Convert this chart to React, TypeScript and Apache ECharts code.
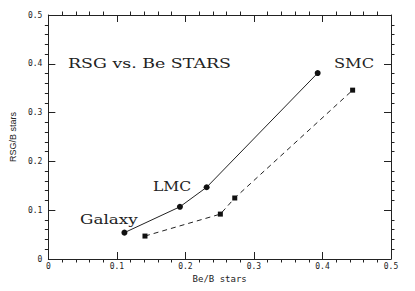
import React, { useEffect, useRef } from "react";
import * as echarts from "echarts";

const rsgX = [0.111, 0.192, 0.231, 0.393];
const rsgY = [0.054, 0.107, 0.147, 0.381];
const beX = [0.141, 0.251, 0.272, 0.444];
const beY = [0.047, 0.092, 0.125, 0.346];
const titleText = "RSG vs. Be STARS";
const pointLabels = ["Galaxy", "LMC", "SMC"];
const xName = "Be/B stars";
const yName = "RSG/B stars";

const tickFont = "DejaVu Sans Mono";

export default function App() {
  const ref = useRef<HTMLDivElement>(null);
  useEffect(() => {
    const chart = echarts.init(ref.current!, null, { renderer: "svg" });
    const mk = () => ({
      type: "value",
      min: 0,
      max: 0.5,
      interval: 0.1,
      splitLine: { show: false },
      axisLine: { show: true, onZero: false, lineStyle: { color: "#222", width: 1 } },
      axisTick: { show: true, inside: true, length: 7, lineStyle: { color: "#222", width: 1 } },
      minorTick: { show: true, splitNumber: 5, length: -3.5, lineStyle: { color: "#222", width: 1 } },
    });
    const annot = (text: string, x: number, y: number, sx: number) => ({
      type: "text",
      x,
      y,
      scaleX: sx,
      style: { text, font: "12px DejaVu Serif", fill: "#222", textVerticalAlign: "top" },
    });
    chart.setOption({
      animation: false,
      grid: { left: 45, right: 24, top: 15, bottom: 32 },
      xAxis: [
        {
          ...mk(),
          position: "bottom",
          name: xName,
          nameLocation: "middle",
          nameGap: 12,
          nameTextStyle: { fontFamily: tickFont, fontSize: 9, color: "#222" },
          axisLabel: { fontFamily: tickFont, fontSize: 8, color: "#222", margin: 3, formatter: (v: number) => String(+v.toFixed(1)) },
        },
        { ...mk(), position: "top", axisLabel: { show: false } },
      ],
      yAxis: [
        {
          ...mk(),
          position: "left",
          name: yName,
          nameLocation: "middle",
          nameGap: 27,
          nameTextStyle: { fontFamily: "Liberation Sans Narrow, Liberation Sans", fontSize: 9, color: "#222" },
          axisLabel: { fontFamily: tickFont, fontSize: 8, color: "#222", margin: 6, formatter: (v: number) => String(+v.toFixed(1)) },
        },
        { ...mk(), position: "right", axisLabel: { show: false } },
      ],
      graphic: [
        annot(titleText, 68, 58, 1.45),
        annot(pointLabels[2], 334, 58, 1.35),
        annot(pointLabels[1], 153, 181, 1.3),
        annot(pointLabels[0], 80, 213, 1.4),
      ],
      series: [
        {
          type: "line",
          data: rsgX.map((x, i) => [x, rsgY[i]]),
          symbol: "circle",
          symbolSize: 6,
          lineStyle: { color: "#222", width: 1 },
          itemStyle: { color: "#111" },
        },
        {
          type: "line",
          data: beX.map((x, i) => [x, beY[i]]),
          symbol: "rect",
          symbolSize: 5,
          lineStyle: { color: "#222", width: 1, type: [5, 4] },
          itemStyle: { color: "#111" },
        },
      ],
    });
    return () => chart.dispose();
  }, []);
  return <div ref={ref} style={{ width: 415, height: 291, margin: -8 }} />;
}
